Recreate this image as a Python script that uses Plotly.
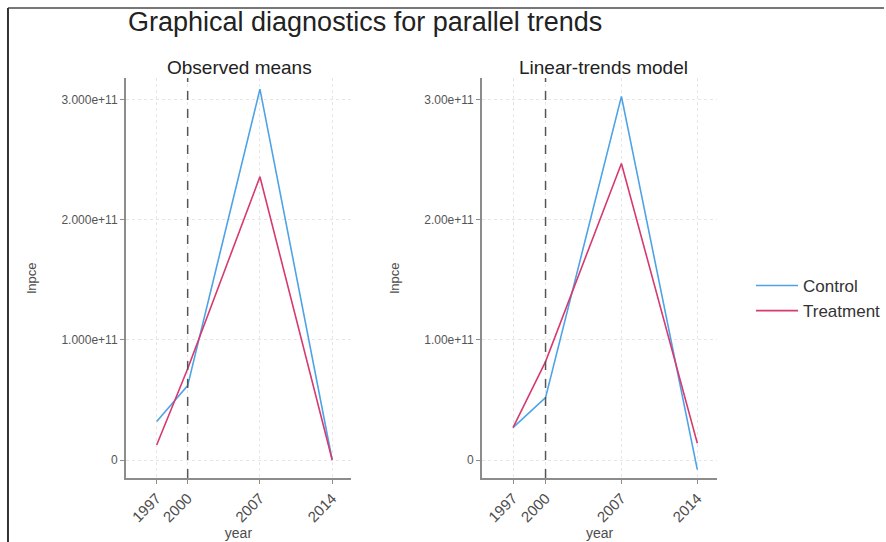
import plotly.graph_objects as go

years = [1997, 2000, 2007, 2014]
treat_year = 2000
year_ticks = [1997, 2000, 2007, 2014]

obs_control = [3.2e10, 6.2e10, 3.09e11, 0.0]
obs_treatment = [1.25e10, 7.6e10, 2.36e11, 0.0]
lin_control = [2.7e10, 5.2e10, 3.03e11, -0.8e10]
lin_treatment = [2.7e10, 8.2e10, 2.47e11, 1.4e10]

y_ticks = [0, 1e11, 2e11, 3e11]
y_labels_left = ["0", "1.000e+11", "2.000e+11", "3.000e+11"]
y_labels_right = ["0", "1.00e+11", "2.00e+11", "3.00e+11"]

c_control = "#4ea3e6"
c_treat = "#d63a6e"
FONT = "Liberation Sans, Arial, sans-serif"
W, H = 886, 542

fig = go.Figure()
fig.add_trace(go.Scatter(x=years, y=obs_control, mode="lines", name="Control",
                         line=dict(color=c_control, width=1.6), xaxis="x", yaxis="y", legendgroup="c"))
fig.add_trace(go.Scatter(x=years, y=obs_treatment, mode="lines", name="Treatment",
                         line=dict(color=c_treat, width=1.6), xaxis="x", yaxis="y", legendgroup="t"))
fig.add_trace(go.Scatter(x=years, y=lin_control, mode="lines", name="Control", showlegend=False,
                         line=dict(color=c_control, width=1.6), xaxis="x2", yaxis="y2", legendgroup="c"))
fig.add_trace(go.Scatter(x=years, y=lin_treatment, mode="lines", name="Treatment", showlegend=False,
                         line=dict(color=c_treat, width=1.6), xaxis="x2", yaxis="y2", legendgroup="t"))

ydom = [1 - 478 / H, 1 - 78 / H]
yrange = [-0.15e11, 3.183e11]

common_x = dict(tickmode="array", tickvals=year_ticks, ticktext=[str(v) for v in year_ticks],
                tickangle=-45, showline=True, linecolor="#8c8c8c", linewidth=1.5,
                ticks="outside", ticklen=4, tickcolor="#8c8c8c", showgrid=True,
                gridcolor="#e6e6e6", griddash="dot", zeroline=False,
                tickfont=dict(family=FONT, size=15, color="#4d4d4d"),
                title=dict(text="year", font=dict(family=FONT, size=14, color="#4d4d4d"), standoff=2))
common_y = dict(tickmode="array", tickvals=y_ticks, showline=True, linecolor="#8c8c8c", linewidth=1.5,
                ticks="outside", ticklen=4, tickcolor="#8c8c8c", showgrid=True,
                gridcolor="#e6e6e6", griddash="dot", zeroline=False, range=yrange, domain=ydom,
                tickfont=dict(family=FONT, size=12, color="#555555"),
                title=dict(text="lnpce", font=dict(family=FONT, size=13, color="#4d4d4d"), standoff=22))

fig.update_layout(
    width=W, height=H, margin=dict(l=0, r=0, t=0, b=0),
    paper_bgcolor="white", plot_bgcolor="white",
    xaxis=dict(common_x, domain=[126 / W, 352 / W], range=[1994.0, 2015.84], anchor="y"),
    yaxis=dict(common_y, ticktext=y_labels_left, anchor="x"),
    xaxis2=dict(common_x, domain=[483 / W, 719 / W], range=[1994.13, 2015.85], anchor="y2"),
    yaxis2=dict(common_y, ticktext=y_labels_right, anchor="x2"),
    legend=dict(x=753 / W, y=1 - 268 / H, xanchor="left", yanchor="top", itemwidth=42,
                font=dict(family=FONT, size=17, color="#333333"), bgcolor="rgba(0,0,0,0)",
                tracegroupgap=0),
    showlegend=True,
)

for xr in ["x", "x2"]:
    fig.add_shape(type="line", xref=xr, yref=("y domain" if xr == "x" else "y2 domain"),
                  x0=treat_year, x1=treat_year, y0=0, y1=1,
                  line=dict(color="#555555", width=1.5, dash="dash"))

fig.add_annotation(text="Graphical diagnostics for parallel trends", xref="paper", yref="paper",
                   x=126 / W, y=1 - 22 / H, xanchor="left", yanchor="middle", showarrow=False,
                   font=dict(family=FONT, size=27, color="#222222"))
fig.add_annotation(text="Observed means", xref="paper", yref="paper",
                   x=240 / W, y=1 - 68 / H, xanchor="center", yanchor="middle", showarrow=False,
                   font=dict(family=FONT, size=19, color="#222222"))
fig.add_annotation(text="Linear-trends model", xref="paper", yref="paper",
                   x=605 / W, y=1 - 68 / H, xanchor="center", yanchor="middle", showarrow=False,
                   font=dict(family=FONT, size=19, color="#222222"))

# frame
fig.add_shape(type="line", xref="paper", yref="paper", x0=8 / W, x1=1, y0=1 - 8 / H, y1=1 - 8 / H,
              line=dict(color="#777777", width=2))
fig.add_shape(type="line", xref="paper", yref="paper", x0=8 / W, x1=8 / W, y0=0, y1=1 - 8 / H,
              line=dict(color="#333333", width=2))

fig.write_html("out.html")
